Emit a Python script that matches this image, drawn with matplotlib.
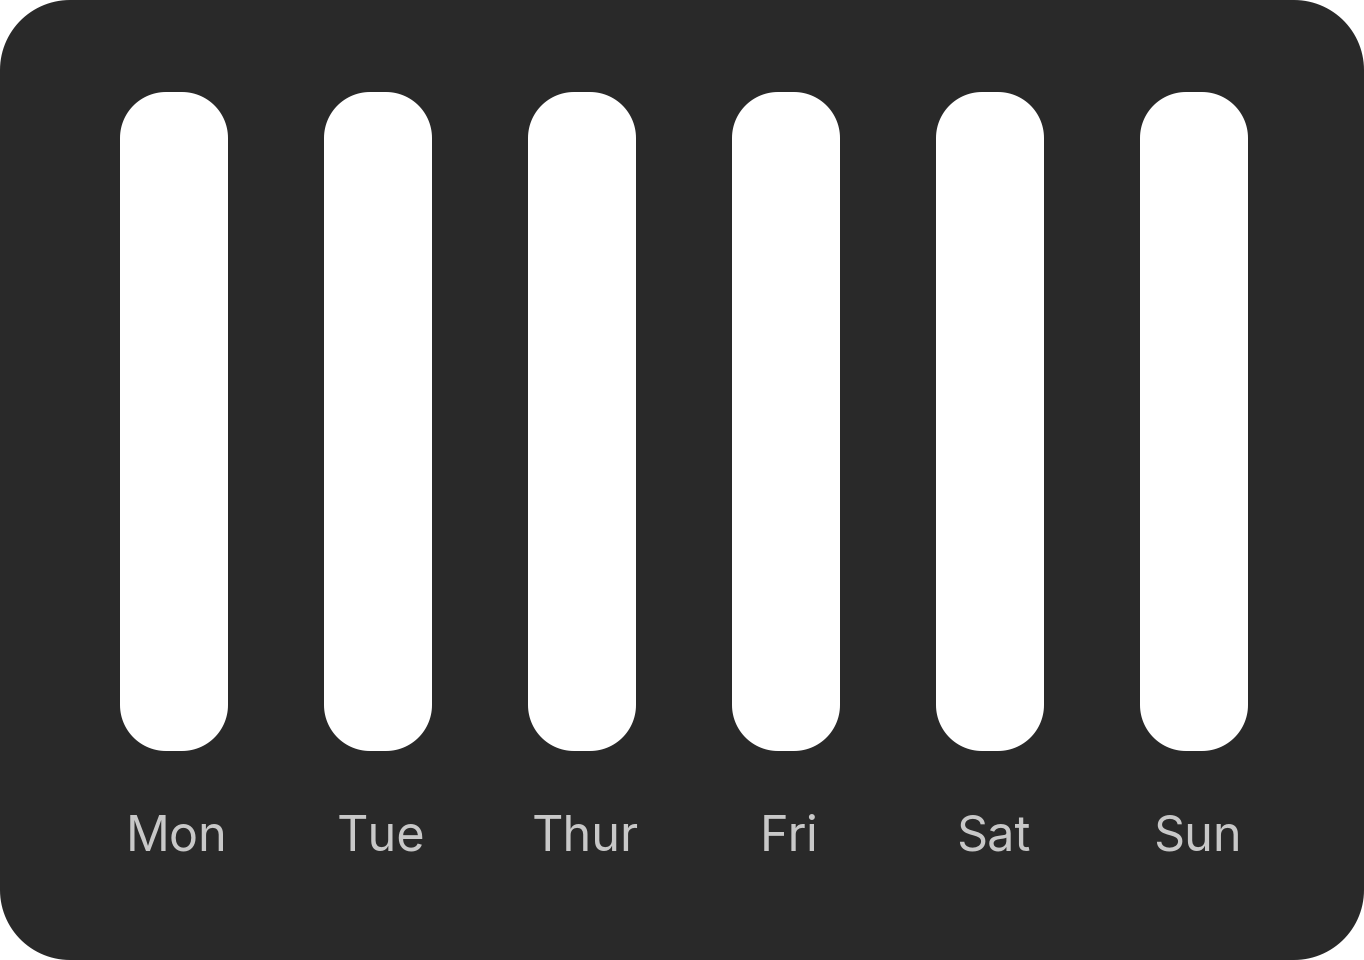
import matplotlib
matplotlib.use("Agg")
import numpy as np
import matplotlib.pyplot as plt
import matplotlib.transforms as mtransforms
from matplotlib.path import Path
from matplotlib.patches import PathPatch

days = ["Mon", "Tue", "Thur", "Fri", "Sat", "Sun"]
values = [100, 100, 100, 100, 100, 100]

W, H = 1364, 960
bg_color = "#292929"
bar_color = "#ffffff"
label_color = "#c8c8c8"


def rounded_rect(x0, y0, w, h, rx, ry):
    # rectangle with circular-looking corners (rx, ry are radii in data units)
    verts = []
    corners = [(x0 + w - rx, y0 + ry, -90), (x0 + w - rx, y0 + h - ry, 0),
               (x0 + rx, y0 + h - ry, 90), (x0 + rx, y0 + ry, 180)]
    for cx, cy, start in corners:
        t = np.radians(np.linspace(start, start + 90, 30))
        verts += list(zip(cx + rx * np.cos(t), cy + ry * np.sin(t)))
    verts.append(verts[0])
    codes = [Path.MOVETO] + [Path.LINETO] * (len(verts) - 2) + [Path.CLOSEPOLY]
    return Path(verts, codes)


fig = plt.figure(figsize=(W / 100, H / 100), dpi=100, facecolor="white")

# rounded dark card behind everything
bg = fig.add_axes([0, 0, 1, 1])
bg.set_xlim(0, W)
bg.set_ylim(0, H)
bg.axis("off")
bg.add_patch(PathPatch(rounded_rect(0, 0, W, H, 70, 70), facecolor=bg_color, edgecolor="none"))

# plot area in pixels: x from 72 to 1296, y from 92 (top) to 751 (bottom)
left, right, top, bottom = 72, 1296, 92, 751
ax = fig.add_axes([left / W, (H - bottom) / H, (right - left) / W, (bottom - top) / H])
ax.patch.set_alpha(0)
n = len(days)
ax.set_xlim(-0.5, n - 0.5)
ax.set_ylim(0, max(values))

px_x = n / (right - left)            # x units per pixel
px_y = max(values) / (bottom - top)  # y units per pixel
bar_w = 108 * px_x
r = 46

for i, v in enumerate(values):
    ax.add_patch(PathPatch(rounded_rect(i - bar_w / 2, 0, bar_w, v, r * px_x, r * px_y),
                           facecolor=bar_color, edgecolor="none"))

ax.set_xticks(range(n))
ax.set_xticklabels(days, fontsize=35, color=label_color, family=["Inter", "DejaVu Sans"])
ax.tick_params(axis="x", length=0, pad=46)
shift = mtransforms.ScaledTranslation(3 / 100, 0, fig.dpi_scale_trans)
for lab in ax.get_xticklabels():
    lab.set_transform(lab.get_transform() + shift)
ax.set_yticks([])
for s in ax.spines.values():
    s.set_visible(False)

fig.savefig("out.png", dpi=100, facecolor=fig.get_facecolor())
